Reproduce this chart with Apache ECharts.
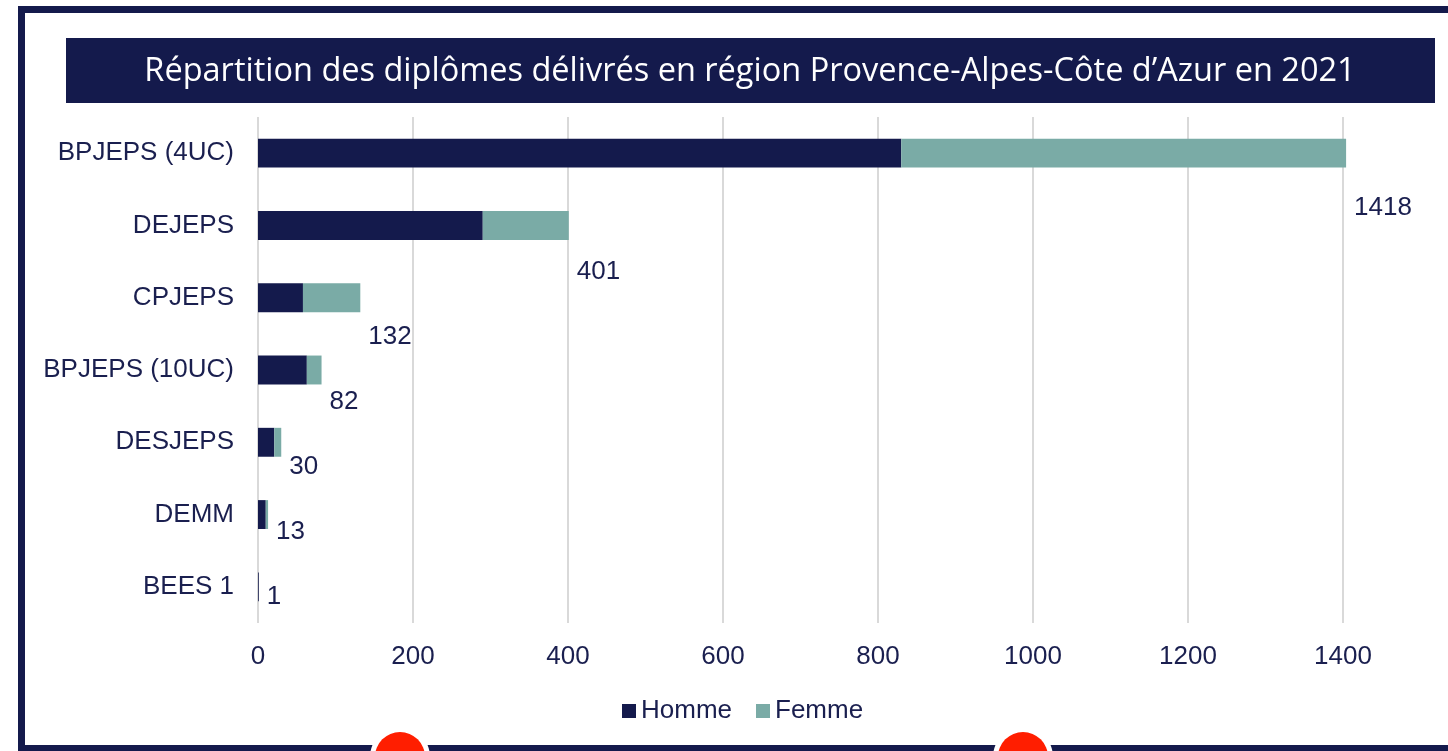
<!DOCTYPE html>
<html>
<head>
<meta charset="utf-8">
<style>
  html, body { margin: 0; padding: 0; background: #fff; }
  #chart { width: 1448px; height: 751px; }
</style>
<script src="https://cdn.jsdelivr.net/npm/echarts@6/dist/echarts.min.js"></script>
</head>
<body>
<div id="chart"></div>
<script>
const categories = ["BPJEPS (4UC)", "DEJEPS", "CPJEPS", "BPJEPS (10UC)", "DESJEPS", "DEMM", "BEES 1"];
const homme = [830, 290, 58, 63, 21, 10, 1];
const femme = [574, 111, 74, 19, 9, 3, 0];
const totals = [1418, 401, 132, 82, 30, 13, 1];
const xTicks = [0, 200, 400, 600, 800, 1000, 1200, 1400];

const NAVY = "#141a4c";
const TEAL = "#7aaba6";
const TEXT = "#1a1f4f";
const FONT = "Liberation Sans, Arial, sans-serif";

const chart = echarts.init(document.getElementById("chart"));

const option = {
  animation: false,
  backgroundColor: "#fff",
  graphic: [
    {
      type: "rect",
      shape: { x: 21.5, y: 9.5, width: 1500, height: 739 },
      style: { fill: "none", stroke: NAVY, lineWidth: 7 },
      z: 0,
    },
    {
      type: "rect",
      shape: { x: 66, y: 38, width: 1369, height: 65 },
      style: { fill: NAVY },
      z: 1,
    },
    {
      type: "text",
      x: 750,
      y: 72,
      style: {
        text: "Répartition des diplômes délivrés en région Provence-Alpes-Côte d’Azur en 2021",
        fill: "#fff",
        font: '32.5px "Open Sans", sans-serif',
        align: "center",
        verticalAlign: "middle",
      },
      z: 2,
    },
    // decorative dots on the bottom border
    { type: "circle", shape: { cx: 400, cy: 757, r: 30 }, style: { fill: "#fff" }, z: 3 },
    { type: "circle", shape: { cx: 400, cy: 757, r: 25 }, style: { fill: "#ff1e00" }, z: 4 },
    { type: "circle", shape: { cx: 1023, cy: 757, r: 30 }, style: { fill: "#fff" }, z: 3 },
    { type: "circle", shape: { cx: 1023, cy: 757, r: 25 }, style: { fill: "#ff1e00" }, z: 4 },
  ],
  legend: {
    data: ["Homme", "Femme"],
    bottom: 22,
    left: 617,
    itemWidth: 14,
    itemHeight: 14,
    itemGap: 24,
    icon: "rect",
    textStyle: { color: TEXT, fontSize: 26, fontFamily: FONT },
  },
  grid: [
    { left: 258, right: 105, top: 117, bottom: 128 },
    // totals labels sit on their own, tighter band
    { left: 258, right: 105, top: 175, bottom: 122 },
  ],
  xAxis: [
    {
      type: "value",
      gridIndex: 0,
      min: xTicks[0],
      max: xTicks[xTicks.length - 1],
      interval: 200,
      axisLine: { show: false },
      axisTick: { show: false },
      axisLabel: {
        color: TEXT,
        fontSize: 26,
        fontFamily: FONT,
        margin: 21,
        formatter: (v) => String(v),
      },
      splitLine: { lineStyle: { color: "#d9d9d9", width: 2 } },
    },
    {
      type: "value",
      gridIndex: 1,
      min: xTicks[0],
      max: xTicks[xTicks.length - 1],
      show: false,
    },
  ],
  yAxis: [
    {
      type: "category",
      gridIndex: 0,
      data: categories,
      inverse: true,
      axisLine: { show: false },
      axisTick: { show: false },
      axisLabel: { color: TEXT, fontSize: 26, fontFamily: FONT, margin: 24 },
    },
    {
      type: "category",
      gridIndex: 1,
      data: categories,
      inverse: true,
      show: false,
    },
  ],
  series: [
    {
      name: "Homme",
      type: "bar",
      stack: "total",
      data: homme,
      barWidth: "40%",
      itemStyle: { color: NAVY },
    },
    {
      name: "Femme",
      type: "bar",
      stack: "total",
      data: femme,
      barWidth: "40%",
      clip: false,
      itemStyle: { color: TEAL },
    },
    {
      name: "Total",
      type: "scatter",
      xAxisIndex: 1,
      yAxisIndex: 1,
      symbolSize: 0,
      clip: false,
      itemStyle: { opacity: 1 },
      data: categories.map((c, i) => [homme[i] + femme[i], c]),
      label: {
        show: true,
        position: "right",
        distance: 8,
        color: TEXT,
        fontSize: 26,
        fontFamily: FONT,
        formatter: (p) => String(totals[p.dataIndex]),
      },
    },
  ],
};

chart.setOption(option);
</script>
</body>
</html>
